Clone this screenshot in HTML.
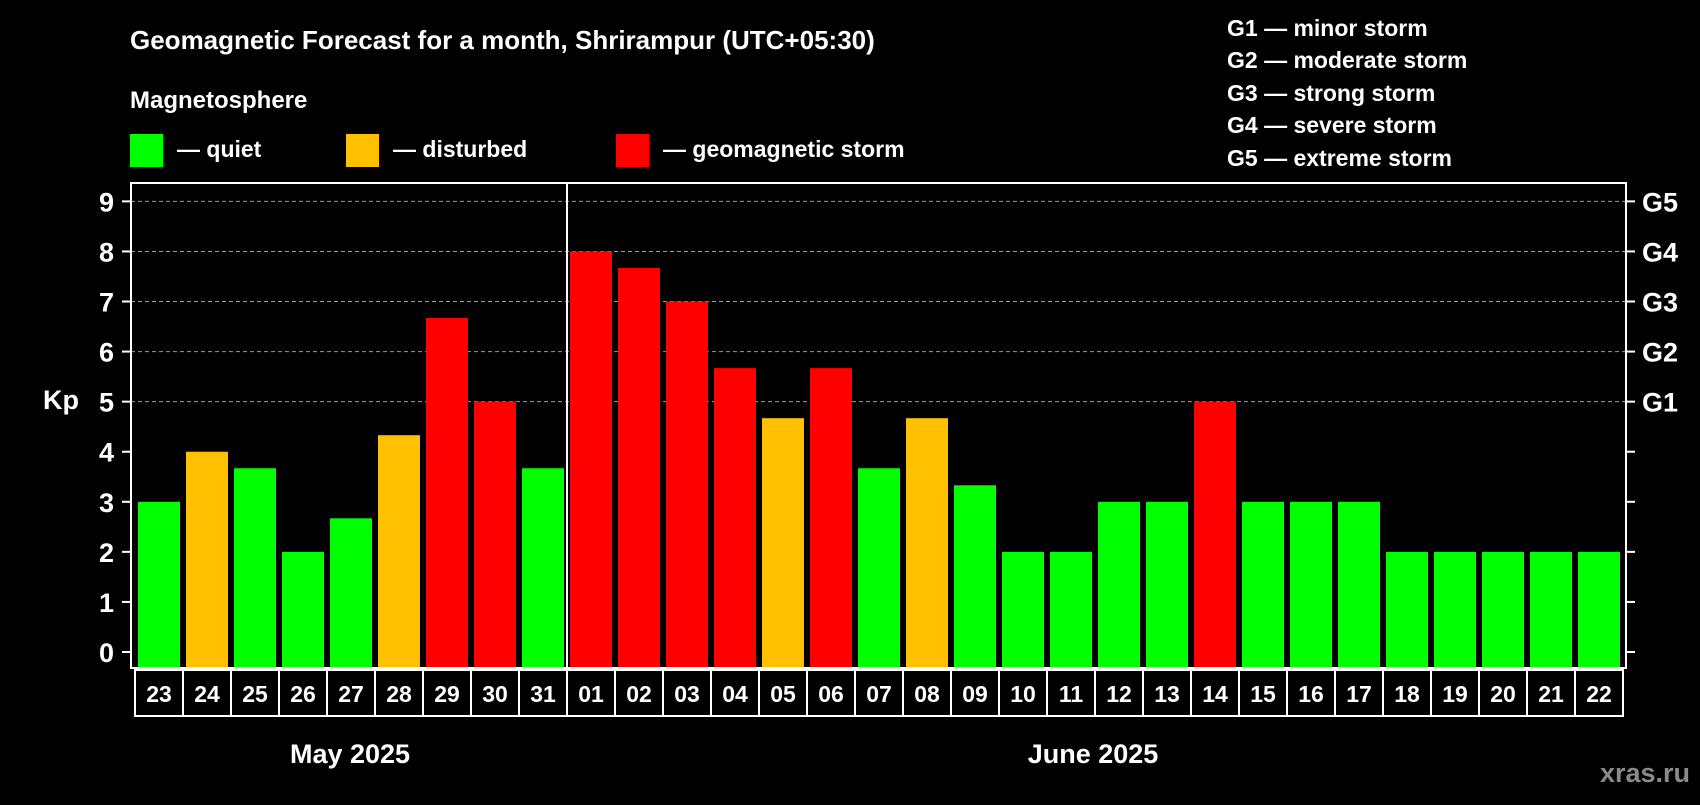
<!DOCTYPE html>
<html><head><meta charset="utf-8"><style>
body{margin:0;background:#000;width:1700px;height:800px;overflow:hidden}
svg text{font-family:"Liberation Sans",Arial,sans-serif;font-weight:bold;fill:#fff}
</style></head><body>
<svg id="c" width="1700" height="800" xmlns="http://www.w3.org/2000/svg">
<text x="130" y="49" font-size="26">Geomagnetic Forecast for a month, Shrirampur (UTC+05:30)</text>
<text x="130" y="108" font-size="24">Magnetosphere</text>
<rect x="130" y="134" width="33" height="33" fill="#00ff00"/>
<text x="177" y="157" font-size="23">— quiet</text>
<rect x="346" y="134" width="33" height="33" fill="#ffc000"/>
<text x="393" y="157" font-size="23">— disturbed</text>
<rect x="616" y="134" width="33" height="33" fill="#ff0000"/>
<text x="663" y="157" font-size="23">— geomagnetic storm</text>
<g font-size="23">
<text x="1227" y="36">G1 — minor storm</text>
<text x="1227" y="68">G2 — moderate storm</text>
<text x="1227" y="101">G3 — strong storm</text>
<text x="1227" y="133">G4 — severe storm</text>
<text x="1227" y="166">G5 — extreme storm</text>
</g>
<text x="43" y="409" font-size="27">Kp</text>
<text x="350" y="763" font-size="27" text-anchor="middle">May 2025</text>
<text x="1093" y="763" font-size="27" text-anchor="middle">June 2025</text>
<text x="1690" y="782" font-size="27" text-anchor="end" style="fill:#8a8a8a">xras.ru</text>
<g id="plot"></g>
</svg>
<script>
const days=["23","24","25","26","27","28","29","30","31","01","02","03","04","05","06","07","08","09","10","11","12","13","14","15","16","17","18","19","20","21","22"];
const kpValues=[3,4,3.67,2,2.67,4.33,6.67,5,3.67,8,7.67,7,5.67,4.67,5.67,3.67,4.67,3.33,2,2,3,3,5,3,3,3,2,2,2,2,2];
const yTicks=[0,1,2,3,4,5,6,7,8,9];
const gLabels=["","","","","","G1","G2","G3","G4","G5"];
const NS="http://www.w3.org/2000/svg";
const g=document.getElementById('plot');
const L=131,R=1626,T=183,B=668,slot0=135,slotW=48;
function y(v){return 652-50.07*v;}
function x(i){return slot0+i*slotW;}
function mk(t,a){const e=document.createElementNS(NS,t);for(const k in a)e.setAttribute(k,a[k]);g.appendChild(e);return e;}
yTicks.forEach((v,i)=>{
 if(v>=5){const l=mk('line',{x1:L,x2:R,y1:y(v),y2:y(v),stroke:'#999','stroke-dasharray':'4,3','stroke-width':1});
 }
 const t1=mk('line',{x1:L-9,x2:L,y1:y(v),y2:y(v),stroke:'#fff','stroke-width':2});
 
 const t2=mk('line',{x1:R,x2:R+9,y1:y(v),y2:y(v),stroke:'#fff','stroke-width':2});
 
 const tl=mk('text',{x:114,y:y(v)+10,'font-size':27,'text-anchor':'end'});tl.textContent=v;
 
 if(gLabels[i]){const gl=mk('text',{x:1642,y:y(v)+10,'font-size':27});gl.textContent=gLabels[i];
 }
});
kpValues.forEach((v,i)=>{
 const c=v>=5?'#ff0000':(v>=4?'#ffc000':'#00ff00');
 const b=mk('rect',{x:x(i)+3,y:y(v),width:42,height:B-y(v),fill:c});
 
 const bx=mk('rect',{x:x(i),y:670,width:slotW,height:46,fill:'none',stroke:'#fff','stroke-width':2});
 
 const dt=mk('text',{x:x(i)+slotW/2,y:702,'font-size':23,'text-anchor':'middle'});dt.textContent=days[i];
 
});
const fr=mk('rect',{x:L,y:T,width:R-L,height:B-T,fill:'none',stroke:'#fff','stroke-width':2});

const sep=mk('line',{x1:x(9),x2:x(9),y1:T,y2:B,stroke:'#fff','stroke-width':2});

</script>
</body></html>
